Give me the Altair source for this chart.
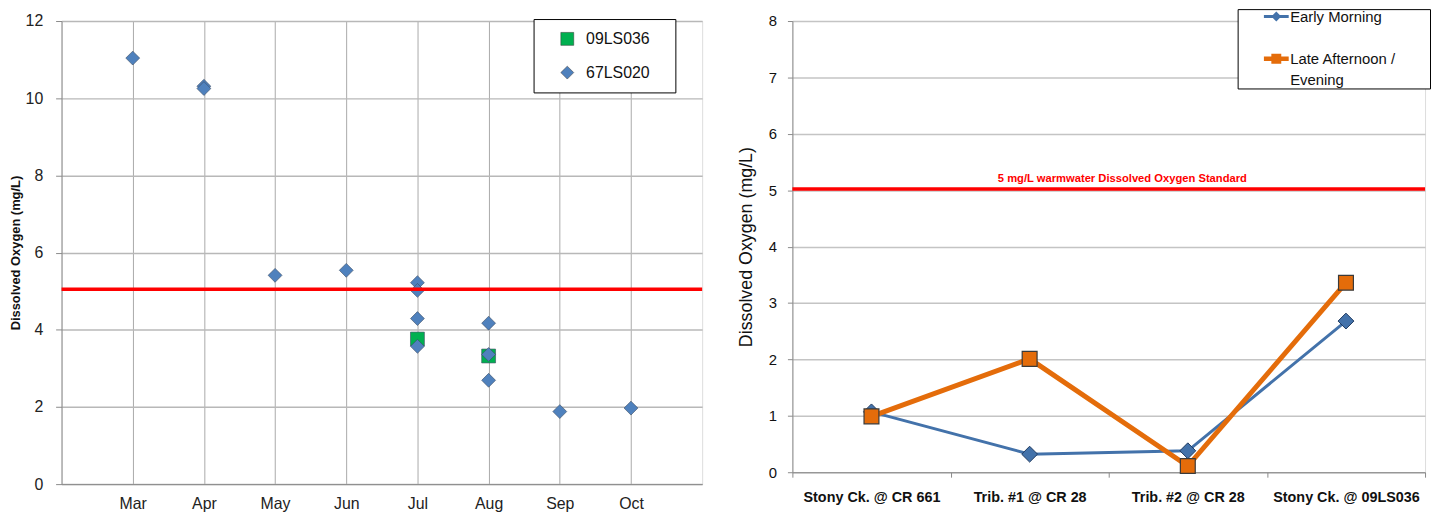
import altair as alt
import pandas as pd

# ---------------- Left chart data ----------------
months = ["Mar", "Apr", "May", "Jun", "Jul", "Aug", "Sep", "Oct"]
s1_name = "09LS036"
s1_month = ["Jul", "Aug"]
s1_do = [3.76, 3.32]
s2_name = "67LS020"
s2_month = ["Mar", "Apr", "Apr", "May", "Jun", "Jul", "Jul", "Jul", "Jul",
            "Aug", "Aug", "Aug", "Sep", "Oct"]
s2_do = [11.04, 10.31, 10.25, 5.41, 5.54, 5.22, 5.02, 4.29, 3.57,
         4.17, 3.36, 2.69, 1.88, 1.97]
left_standard = 5.05

# ---------------- Right chart data ----------------
sites = ["Stony Ck. @ CR 661", "Trib. #1 @ CR 28", "Trib. #2 @ CR 28", "Stony Ck. @ 09LS036"]
early_name = "Early Morning"
early_morning = [1.07, 0.32, 0.38, 2.68]
late_name = "Late Afternoon / Evening"
late_afternoon = [0.99, 2.01, 0.11, 3.36]
right_standard = 5.02
standard_label = "5 mg/L warmwater Dissolved Oxygen Standard"

FONT = "Liberation Sans"
BLUE = "#4f81bd"
GREEN = "#00b050"
LINE_BLUE = "#4372aa"
ORANGE = "#e46c0a"
NB = "\\u00a0"
ZW = "\\u200b"

# ---------- left ----------
left_df = pd.DataFrame({
    "series": [s1_name] * len(s1_do) + [s2_name] * len(s2_do),
    "mi": [months.index(m) + 1 for m in s1_month] + [months.index(m) + 1 for m in s2_month],
    "do": s1_do + s2_do,
})

month_expr = "[" + ",".join(["''"] + ["'%s'" % m for m in months] + ["''"]) + "][datum.value]"

left_legend = alt.Legend(
    orient="none", legendX=476, legendY=-2, title=None,
    fillColor="white", strokeColor="black", padding=12, rowPadding=18,
    symbolSize=170, symbolOffset=14, labelOffset=11, labelFontSize=16,
    labelColor="#111", labelFont=FONT, symbolStrokeWidth=0.5, symbolStrokeColor="#333",
    labelExpr="datum.label + '" + NB * 3 + ZW + "'",
)

left_pts = alt.Chart(left_df).mark_point(
    filled=True, opacity=1, size=196, stroke="#3a4a60", strokeWidth=0.6
).encode(
    x=alt.X("mi:Q", scale=alt.Scale(domain=[0, len(months) + 1], nice=False, zero=False),
            axis=alt.Axis(values=list(range(1, len(months) + 1)), labelExpr=month_expr,
                          title=None, grid=True, gridColor="#a9a9a9", gridWidth=1,
                          tickSize=0, labelPadding=12, labelFontSize=16, labelColor="#222",
                          domainColor="#8a8a8a", labelFont=FONT)),
    y=alt.Y("do:Q", scale=alt.Scale(domain=[0, 12], nice=False),
            axis=alt.Axis(values=list(range(0, 13)), title="Dissolved Oxygen (mg/L)", format="d",
                          labelExpr="datum.value % 2 == 0 ? datum.label : ''",
                          gridColor={"condition": {"test": "datum.value % 2 == 1", "value": "#dedede"},
                                     "value": "#b8b8b8"},
                          gridWidth=1.5,
                          tickOpacity={"condition": {"test": "datum.value % 2 == 1", "value": 0},
                                       "value": 1},
                          tickSize=6, tickColor="#8a8a8a", domainColor="#8a8a8a",
                          labelPadding=13, labelFontSize=16, labelColor="#222",
                          titleFontSize=13, titleFontWeight="bold", titlePadding=3,
                          titleColor="#111", labelFont=FONT, titleFont=FONT)),
    color=alt.Color("series:N", scale=alt.Scale(domain=[s1_name, s2_name], range=[GREEN, BLUE]),
                    legend=left_legend),
    shape=alt.Shape("series:N", scale=alt.Scale(domain=[s1_name, s2_name], range=["square", "diamond"]),
                    legend=left_legend),
)

left_rule = alt.Chart(pd.DataFrame({"v": [left_standard]})).mark_rule(
    color="#ff0000", strokeWidth=3.5).encode(y="v:Q")

left = alt.layer(left_pts, left_rule).properties(width=646, height=467)

# ---------- right ----------
right_df = pd.DataFrame({
    "site": sites * 2,
    "idx": list(range(len(sites))) * 2,
    "series": [early_name] * len(sites) + [late_name] * len(sites),
    "do": early_morning + late_afternoon,
})

xr = alt.X("site:N", sort=sites,
           scale=alt.Scale(domain=sites, paddingInner=0, paddingOuter=0),
           axis=alt.Axis(title=None, labelAngle=0, labelFontWeight="bold", labelFontSize=14.5,
                         labelColor="#111", tickBand="extent", tickSize=5, labelPadding=14,
                         domainColor="#8a8a8a", tickColor="#8a8a8a", grid=False, labelFont=FONT))
yr = alt.Y("do:Q", scale=alt.Scale(domain=[0, 8], nice=False),
           axis=alt.Axis(values=list(range(0, 9)), title="Dissolved Oxygen (mg/L)", format="d",
                         gridColor="#c4c4c4", gridWidth=1.5, tickSize=5, tickColor="#8a8a8a",
                         domainColor="#8a8a8a", labelPadding=11, labelFontSize=15,
                         labelColor="#111", titleFontSize=18, titleFontWeight="normal",
                         titlePadding=13, titleColor="#111", labelFont=FONT, titleFont=FONT))

base_r = alt.Chart(right_df)
em = base_r.transform_filter(alt.datum.series == early_name)
la = base_r.transform_filter(alt.datum.series == late_name)

em_line = em.mark_line(color=LINE_BLUE, strokeWidth=3).encode(x=xr, y=yr, order="idx:Q")
em_pts = em.mark_point(shape="diamond", filled=True, opacity=1, size=256, fill=LINE_BLUE,
                       stroke="#1f3a5f", strokeWidth=1).encode(x=xr, y=yr)
la_line = la.mark_line(color=ORANGE, strokeWidth=5).encode(x=xr, y=yr, order="idx:Q")
la_pts = la.mark_point(shape="square", filled=True, opacity=1, size=225, fill=ORANGE,
                       stroke="#3a3a3a", strokeWidth=1.2).encode(x=xr, y=yr)

right_rule = alt.Chart(pd.DataFrame({"v": [right_standard]})).mark_rule(
    color="#ff0000", strokeWidth=3.5).encode(y="v:Q")
right_text = alt.Chart(pd.DataFrame({"v": [5.2], "t": [standard_label], "s": [sites[2]]})).mark_text(
    color="#ff0000", fontWeight="bold", fontSize=11.3, font=FONT, dx=-66, baseline="middle"
).encode(x=alt.X("s:N"), y="v:Q", text="t:N")

# legend entries (spacer rows reproduce the wrapped label layout)
leg_items = [early_name, "gap", late_name, "cont"]
leg_labels = ("{'Early Morning': 'Early Morning', 'gap': '', "
              "'Late Afternoon / Evening': 'Late Afternoon /" + NB * 8 + ZW + "', "
              "'cont': 'Evening'}[datum.label]")
em_sym = "M-2.5,-0.3H2.5V0.3H-2.5Z M0,-1L1,0L0,1L-1,0Z"
la_sym = "M-2.5,-0.45H2.5V0.45H-2.5Z M-1,-1H1V1H-1Z"
blank_sym = "M0,0Z"

right_legend = alt.Legend(
    orient="none", legendX=449, legendY=-12, title=None,
    fillColor="white", strokeColor="black", padding=0, rowPadding=5.3,
    symbolSize=100, symbolOffset=31.5, labelOffset=6.5, labelFontSize=15,
    labelColor="#111", labelFont=FONT, symbolStrokeWidth=0, labelExpr=leg_labels,
    labelLimit=400,
)
leg_df = pd.DataFrame({"item": leg_items, "site": [sites[0]] * 4, "do": [0.0] * 4})
legend_layer = alt.Chart(leg_df).transform_filter("false").mark_point(filled=True, opacity=1).encode(
    x=xr, y=yr,
    shape=alt.Shape("item:N", scale=alt.Scale(domain=leg_items, range=[em_sym, blank_sym, la_sym, blank_sym]),
                    legend=right_legend),
    fill=alt.Fill("item:N", scale=alt.Scale(domain=leg_items,
                                            range=[LINE_BLUE, "transparent", ORANGE, "transparent"]),
                  legend=right_legend),
)

right = alt.layer(em_line, em_pts, la_line, la_pts, right_rule, right_text, legend_layer).properties(
    width=638, height=455)

chart = alt.hconcat(left, right, spacing=32).resolve_scale(
    color="independent", shape="independent", fill="independent", x="independent", y="independent"
).resolve_legend(
    color="independent", shape="independent", fill="independent"
).properties(
    padding={"left": 0, "top": -2, "right": 0, "bottom": 0},
    background="white",
).configure_view(stroke=None).configure(font=FONT)

chart.save("out.html", embed_options={"renderer": "svg", "actions": False})
